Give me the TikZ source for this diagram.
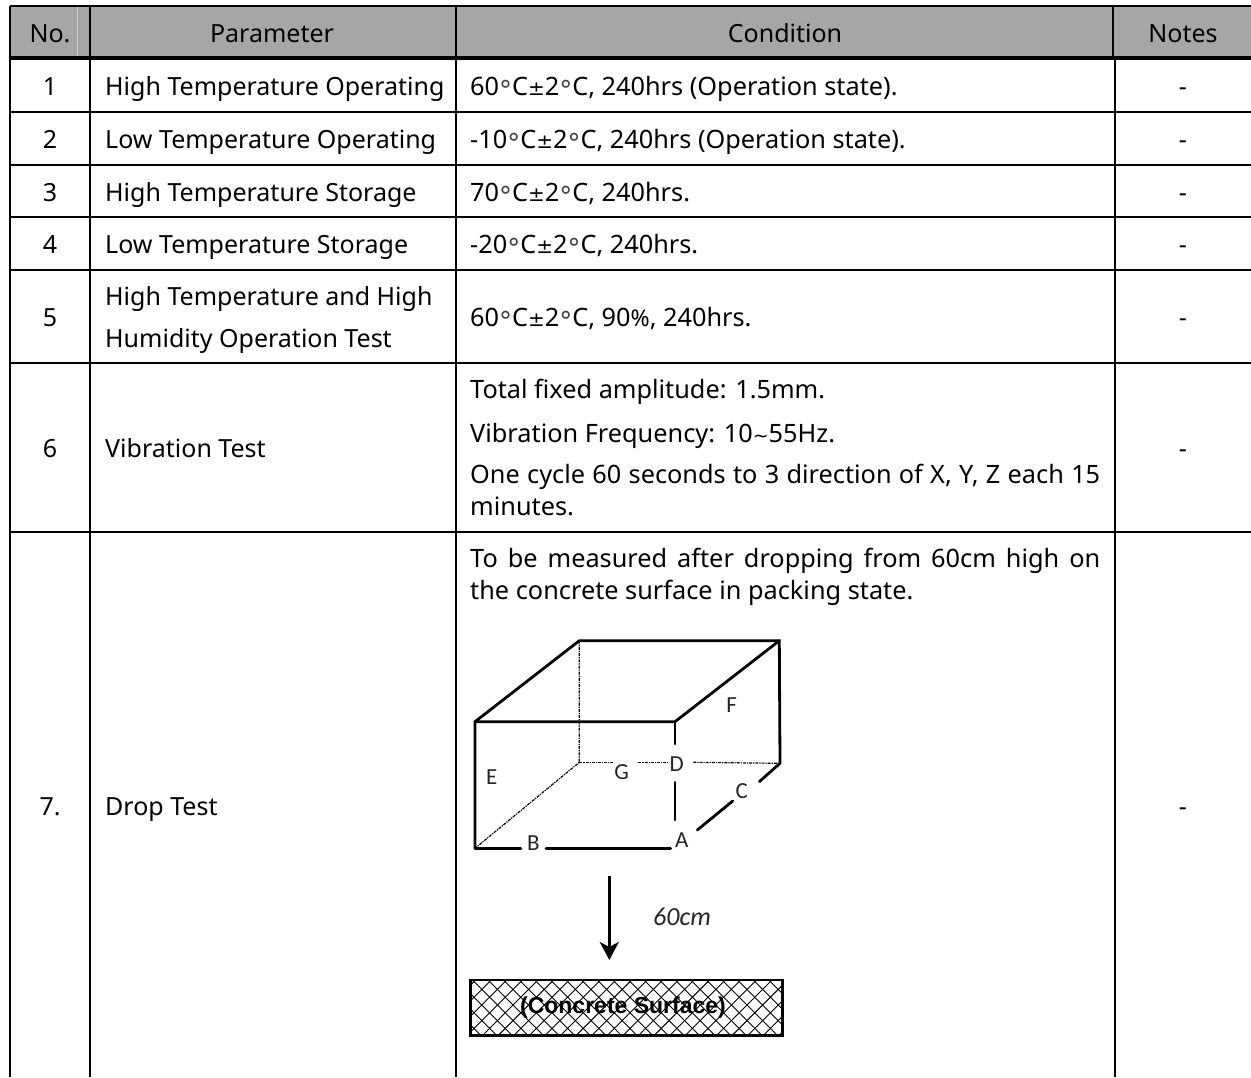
\documentclass[tikz,border=0pt]{standalone}
\usepackage{fontspec}
\usetikzlibrary{arrows.meta}
\setmainfont{Noto Sans}
\newfontfamily\boxfont{Carlito}
\newfontfamily\symfont{DejaVu Sans}
\newfontfamily\concretefont{Liberation Sans}
\newcommand{\tablesize}{\fontsize{25}{32}\selectfont}
\newcommand{\condsize}{\fontsize{25.3}{32}\selectfont}
\newcommand{\degC}{{\symfont\fontsize{26}{26}\selectfont\raisebox{-4pt}{\textcolor{black!75}{°}}}C}
\newcommand{\plusminus}{{\symfont\fontsize{20}{20}\selectfont ±}}
\tikzset{
    rule/.style={line width=2pt},
    headrule/.style={line width=4pt},
    celltext/.style={font=\tablesize, anchor=base west, inner sep=0pt, text=black},
    condtext/.style={celltext, font=\condsize},
    midtext/.style={font=\tablesize, anchor=base, inner sep=0pt, text=black},
    flowtext/.style={condtext, text width=630pt, align=justify},
    boxedge/.style={line width=2.8pt, line cap=round},
    hiddenedge/.style={line width=1.2pt, densely dash dot},
    boxlabel/.style={font=\boxfont\fontsize{23}{23}\selectfont, inner sep=0pt, text=black!85}
}
\begin{document}
\begin{tikzpicture}[x=1pt, y=-1pt]
    \useasboundingbox (0,0) rectangle (1251,1077);
    \fill[white] (0,0) rectangle (1251,1077);
    \fill[black!35] (10,6) rectangle (1251,58);
    \draw[white!80!black, line width=0.7pt] (77,7) -- (77,57);
    \draw[rule, line width=2.5pt] (10,6) -- (1251,6);
    \draw[headrule] (10,58) -- (1251,58);
    \foreach \rowy in {111.5,164.5,217,270,363,532} {
        \draw[rule] (10,\rowy) -- (1251,\rowy);
    }
    \foreach \colx in {10,90,455.7} {
        \draw[rule] (\colx,6) -- (\colx,1077);
    }
    \draw[rule] (1113,6) -- (1113,58);
    \draw[rule] (1115,58) -- (1115,1077);
    \node[midtext] (headno) at (50,42) {No.};
    \node[midtext] (headparam) at (272,42) {Parameter};
    \node[midtext] (headcond) at (785,42) {Condition};
    \node[midtext] (headnotes) at (1183,42) {Notes};
    \foreach \numtext/\rowy [count=\i] in {1/95,2/148,3/201,4/253,5/326,6/457,7./815} {
        \node[midtext] (no\i) at (50,\rowy) {\numtext};
        \node[midtext] (dash\i) at (1183,\rowy) {-};
    }
    \node[celltext] (param1) at (105,95) {High Temperature Operating};
    \node[celltext] (param2) at (105,148) {Low Temperature Operating};
    \node[celltext] (param3) at (105,201) {High Temperature Storage};
    \node[celltext] (param4) at (105,253) {Low Temperature Storage};
    \node[celltext] (param5a) at (105,305) {High Temperature and High};
    \node[celltext] (param5b) at (105,347) {Humidity Operation Test};
    \node[celltext] (param6) at (105,457) {Vibration Test};
    \node[celltext] (param7) at (105,815) {Drop Test};
    \node[condtext] (cond1) at (470,95) {60\degC\plusminus2\degC, 240hrs (Operation state).};
    \node[condtext] (cond2) at (470,148) {-10\degC\plusminus2\degC, 240hrs (Operation state).};
    \node[condtext] (cond3) at (470,201) {70\degC\plusminus2\degC, 240hrs.};
    \node[condtext] (cond4) at (470,253) {-20\degC\plusminus2\degC, 240hrs.};
    \node[condtext] (cond5) at (470,326) {60\degC\plusminus2\degC, 90{\fontsize{23}{23}\selectfont\%}, 240hrs.};
    \node[condtext] (cond6a) at (470,398) {Total fixed amplitude: 1.5mm.};
    \node[condtext] (cond6b) at (470,442) {Vibration Frequency: 10{\symfont\fontsize{19}{19}\selectfont ∼}55Hz.};
    \node[flowtext, anchor=base west] (cond6c) at (470,483) {One cycle 60 seconds to 3 direction of X, Y, Z each 15\linebreak minutes.};
    \node[flowtext, anchor=base west] (cond7) at (470,567) {To be measured after dropping from 60cm high on\linebreak the concrete surface in packing state.};
    % box
    \coordinate (ftl) at (475,721.7);
    \coordinate (ftr) at (675,721.7);
    \coordinate (btl) at (579.3,640.7);
    \coordinate (btr) at (779.3,640.7);
    \coordinate (fbl) at (475,848.3);
    \coordinate (bbl) at (579.3,762.3);
    \coordinate (bbr) at (780,763.3);
    \draw[boxedge] (fbl) -- (ftl) -- (btl) -- (btr) -- (bbr) -- (759.3,781.7);
    \draw[boxedge] (ftl) -- (ftr) -- (btr);
    \draw[boxedge] (ftr) -- (675,744);
    \draw[boxedge] (675,782.3) -- (675,820);
    \draw[boxedge] (732.7,801) -- (697.3,830);
    \draw[boxedge] (fbl) -- (521,848.3);
    \draw[boxedge] (546,848.3) -- (670.7,848.3);
    \draw[hiddenedge] (btl) -- (bbl) -- (fbl);
    \draw[hiddenedge] (bbl) -- (612.7,762.3);
    \draw[hiddenedge] (638.3,762.3) -- (667.3,762.3);
    \draw[hiddenedge] (693.3,762.3) -- (bbr);
    \node[boxlabel] (labelF) at (731.7,705) {F};
    \node[boxlabel] (labelE) at (491.7,777.3) {E};
    \node[boxlabel] (labelG) at (621.7,771.7) {G};
    \node[boxlabel] (labelD) at (676.7,764) {D};
    \node[boxlabel] (labelC) at (741.7,790.7) {C};
    \node[boxlabel] (labelB) at (533.3,843.3) {B};
    \node[boxlabel] (labelA) at (681.7,840) {A};
    % drop
    \coordinate (dropstart) at (609.3,876);
    \coordinate (dropend) at (609.3,960);
    \draw[line width=3.2pt, -{Stealth[length=18pt, width=19pt, inset=5pt]}] (dropstart) -- (dropend);
    \node[boxlabel, font=\boxfont\itshape\fontsize{26}{26}\selectfont] (dropheight) at (682,917) {60cm};
    % concrete
    \begin{scope}
        \clip (470.7,980) rectangle (782.3,1035.7);
        \foreach \hatchx in {0,15.6,...,390} {
            \draw[line width=0.9pt] (\hatchx+400,1040) -- ++(70,-70);
            \draw[line width=0.9pt] (\hatchx+400,970) -- ++(70,70);
        }
    \end{scope}
    \draw[line width=2.8pt] (470.7,980) rectangle (782.3,1035.7);
    \node[inner sep=0pt, font=\concretefont\bfseries\fontsize{23}{23}\selectfont, text=black] (concrete) at (623,1008) {(Concrete Surface)};
\end{tikzpicture}
\end{document}
